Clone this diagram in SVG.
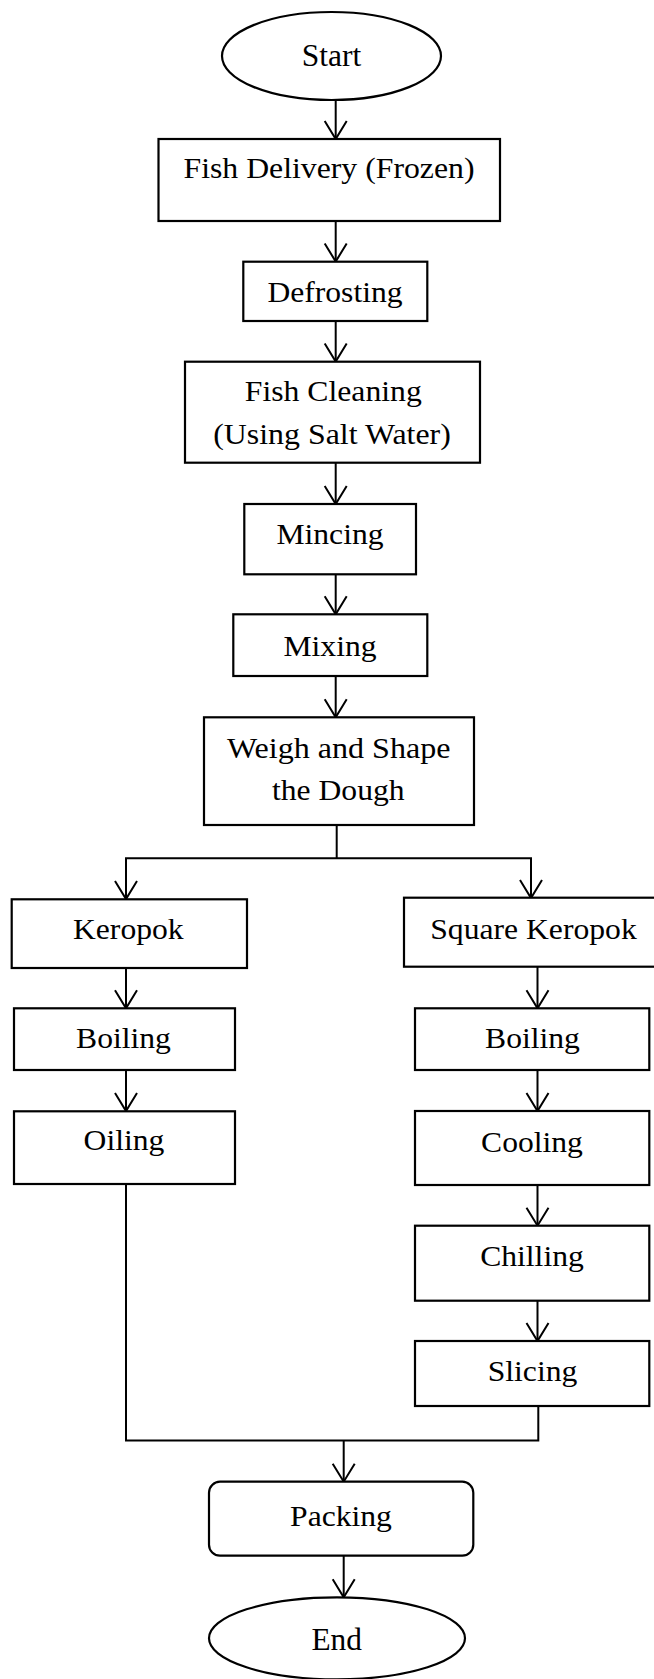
<svg xmlns="http://www.w3.org/2000/svg" width="654" height="1679" viewBox="0 0 654 1679">
<defs>
<style>
.b{fill:#fff;stroke:#000;stroke-width:2.2}
.c{fill:none;stroke:#000;stroke-width:2}
</style>
<marker id="a" markerUnits="userSpaceOnUse" markerWidth="40" markerHeight="40" viewBox="-20 -20 40 40" refX="0" refY="0" orient="auto" overflow="visible">
<path d="M-18,-11 L0,0 L-18,11" fill="none" stroke="#000" stroke-width="2"/>
</marker>
</defs>
<rect width="654" height="1679" fill="#fff"/>
<g id="connectors">
<line class="c" x1="335.7" y1="100" x2="335.7" y2="139" marker-end="url(#a)"/>
<line class="c" x1="335.7" y1="221" x2="335.7" y2="261.5" marker-end="url(#a)"/>
<line class="c" x1="335.7" y1="321" x2="335.7" y2="361.5" marker-end="url(#a)"/>
<line class="c" x1="335.7" y1="462.5" x2="335.7" y2="504" marker-end="url(#a)"/>
<line class="c" x1="335.7" y1="574.5" x2="335.7" y2="614.3" marker-end="url(#a)"/>
<line class="c" x1="335.7" y1="676" x2="335.7" y2="717.3" marker-end="url(#a)"/>
<polyline class="c" points="336.7,825 336.7,858.3"/>
<polyline class="c" points="126,870 126,858.3 531,858.3 531,870"/>
<line class="c" x1="126" y1="865" x2="126" y2="899" marker-end="url(#a)"/>
<line class="c" x1="531" y1="865" x2="531" y2="898" marker-end="url(#a)"/>
<line class="c" x1="126" y1="968" x2="126" y2="1008.3" marker-end="url(#a)"/>
<line class="c" x1="126" y1="1070" x2="126" y2="1111" marker-end="url(#a)"/>
<line class="c" x1="537.5" y1="967" x2="537.5" y2="1008.3" marker-end="url(#a)"/>
<line class="c" x1="537.5" y1="1070" x2="537.5" y2="1111" marker-end="url(#a)"/>
<line class="c" x1="537.5" y1="1185" x2="537.5" y2="1225.7" marker-end="url(#a)"/>
<line class="c" x1="537.5" y1="1301" x2="537.5" y2="1341" marker-end="url(#a)"/>
<polyline class="c" points="126,1184 126,1440.5 538.3,1440.5 538.3,1406"/>
<line class="c" x1="343.7" y1="1440.5" x2="343.7" y2="1481.7" marker-end="url(#a)"/>
<line class="c" x1="343.7" y1="1555.7" x2="343.7" y2="1597.3" marker-end="url(#a)"/>
</g>
<g id="start"><ellipse class="b" cx="331.5" cy="56" rx="109.5" ry="44"/><text font-family="Liberation Serif" font-size="32" text-anchor="middle" x="331.5" y="66" textLength="59.5" lengthAdjust="spacingAndGlyphs">Start</text></g>
<g id="delivery"><rect class="b" x="158.5" y="139" width="341.5" height="82"/><text font-family="Liberation Serif" font-size="29" text-anchor="middle" x="329" y="178" textLength="291" lengthAdjust="spacingAndGlyphs">Fish Delivery (Frozen)</text></g>
<g id="defrosting"><rect class="b" x="243.3" y="261.7" width="184" height="59.3"/><text font-family="Liberation Serif" font-size="29" text-anchor="middle" x="335" y="302" textLength="135.2" lengthAdjust="spacingAndGlyphs">Defrosting</text></g>
<g id="cleaning"><rect class="b" x="185" y="361.7" width="295" height="101"/><text font-family="Liberation Serif" font-size="29" text-anchor="middle" x="333.3" y="400.7" textLength="177" lengthAdjust="spacingAndGlyphs">Fish Cleaning</text><text font-family="Liberation Serif" font-size="29" text-anchor="middle" x="332" y="444" textLength="237.5" lengthAdjust="spacingAndGlyphs">(Using Salt Water)</text></g>
<g id="mincing"><rect class="b" x="244.3" y="504" width="171.7" height="70.3"/><text font-family="Liberation Serif" font-size="29" text-anchor="middle" x="330" y="544.3" textLength="107.1" lengthAdjust="spacingAndGlyphs">Mincing</text></g>
<g id="mixing"><rect class="b" x="233.3" y="614.3" width="194" height="61.7"/><text font-family="Liberation Serif" font-size="29" text-anchor="middle" x="330" y="655.7" textLength="93.1" lengthAdjust="spacingAndGlyphs">Mixing</text></g>
<g id="weigh"><rect class="b" x="204" y="717.3" width="270" height="107.7"/><text font-family="Liberation Serif" font-size="29" text-anchor="middle" x="338.7" y="758.3" textLength="223.5" lengthAdjust="spacingAndGlyphs">Weigh and Shape</text><text font-family="Liberation Serif" font-size="29" text-anchor="middle" x="338.3" y="800" textLength="132.5" lengthAdjust="spacingAndGlyphs">the Dough</text></g>
<g id="keropok"><rect class="b" x="11.7" y="899.3" width="235.3" height="68.7"/><text font-family="Liberation Serif" font-size="29" text-anchor="middle" x="128.3" y="939" textLength="110.6" lengthAdjust="spacingAndGlyphs">Keropok</text></g>
<g id="square-keropok"><rect class="b" x="404" y="897.7" width="252" height="69"/><text font-family="Liberation Serif" font-size="29" text-anchor="middle" x="533.5" y="939" textLength="206.5" lengthAdjust="spacingAndGlyphs">Square Keropok</text></g>
<g id="boiling-left"><rect class="b" x="14" y="1008.3" width="221" height="61.7"/><text font-family="Liberation Serif" font-size="29" text-anchor="middle" x="123.5" y="1048.3" textLength="94.8" lengthAdjust="spacingAndGlyphs">Boiling</text></g>
<g id="oiling"><rect class="b" x="14" y="1111.3" width="221" height="72.7"/><text font-family="Liberation Serif" font-size="29" text-anchor="middle" x="124" y="1150" textLength="80.8" lengthAdjust="spacingAndGlyphs">Oiling</text></g>
<g id="boiling-right"><rect class="b" x="415" y="1008.3" width="234.3" height="61.7"/><text font-family="Liberation Serif" font-size="29" text-anchor="middle" x="532.5" y="1048.3" textLength="94.8" lengthAdjust="spacingAndGlyphs">Boiling</text></g>
<g id="cooling"><rect class="b" x="415" y="1111" width="234.3" height="74"/><text font-family="Liberation Serif" font-size="29" text-anchor="middle" x="532" y="1151.5" textLength="101.8" lengthAdjust="spacingAndGlyphs">Cooling</text></g>
<g id="chilling"><rect class="b" x="415" y="1225.7" width="234.3" height="75"/><text font-family="Liberation Serif" font-size="29" text-anchor="middle" x="532" y="1265.7" textLength="103.6" lengthAdjust="spacingAndGlyphs">Chilling</text></g>
<g id="slicing"><rect class="b" x="415" y="1341" width="234.3" height="65"/><text font-family="Liberation Serif" font-size="29" text-anchor="middle" x="532.5" y="1381" textLength="89.6" lengthAdjust="spacingAndGlyphs">Slicing</text></g>
<g id="packing"><rect class="b" x="209" y="1481.7" width="264.3" height="74" rx="11" ry="11"/><text font-family="Liberation Serif" font-size="29" text-anchor="middle" x="341" y="1525.7" textLength="101.8" lengthAdjust="spacingAndGlyphs">Packing</text></g>
<g id="end"><ellipse class="b" cx="337" cy="1638.3" rx="128" ry="41"/><text font-family="Liberation Serif" font-size="32" text-anchor="middle" x="336.7" y="1650" textLength="50.5" lengthAdjust="spacingAndGlyphs">End</text></g>
</svg>
